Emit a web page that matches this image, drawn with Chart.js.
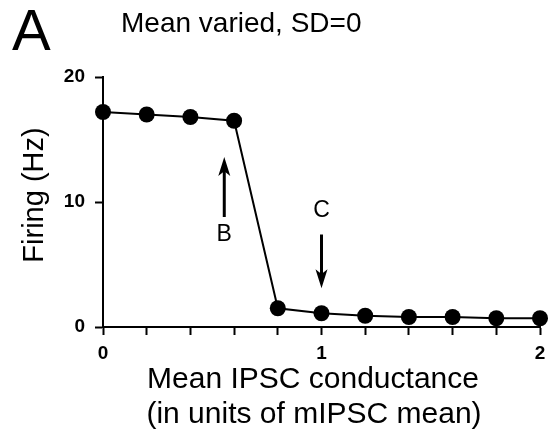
<!DOCTYPE html>
<html><head><meta charset="utf-8">
<script src="https://cdn.jsdelivr.net/npm/chart.js@4"></script>
<style>html,body{margin:0;padding:0;background:#fff}#wrap{width:553px;height:439px}</style>
</head><body><div id="wrap"><canvas id="c" width="553" height="439"></canvas></div>
<script>
// Data
const meanConductance = [0, 0.2, 0.4, 0.6, 0.8, 1.0, 1.2, 1.4, 1.6, 1.8, 2.0];
const firingHz = [17.2, 17.0, 16.8, 16.5, 1.5, 1.1, 0.9, 0.8, 0.8, 0.7, 0.7];
const xTickLabels = ['0', '1', '2'];
const yTickValues = [0, 10, 20];
// Annotation arrows: label, x, tail value, tip value, label value
const arrowLabels = ['B', 'C'];
const arrowX = [0.555, 1.0];
const arrowTail = [8.8, 7.4];
const arrowTip = [13.6, 3.1];
const arrowLabelY = [7.5, 9.4];

const FONT = '"Liberation Sans", Arial, Helvetica, sans-serif';

const textPlugin = {
  id: 'texts',
  afterDraw(chart) {
    const ctx = chart.ctx;
    const xs = chart.scales.x, ys = chart.scales.y;
    ctx.save();
    ctx.fillStyle = '#000';
    ctx.strokeStyle = '#000';
    ctx.textBaseline = 'alphabetic';
    // Panel letter
    ctx.font = '58px ' + FONT;
    ctx.textAlign = 'left';
    ctx.fillText('A', 12, 50);
    // Title
    ctx.font = '28px ' + FONT;
    ctx.fillText('Mean varied, SD=0', 121, 32);
    // X axis title
    ctx.font = '30px ' + FONT;
    ctx.textAlign = 'center';
    ctx.fillText('Mean IPSC conductance', 313, 388);
    ctx.fillText('(in units of mIPSC mean)', 314, 423);
    // Y axis title
    ctx.save();
    ctx.translate(43, 195);
    ctx.rotate(-Math.PI / 2);
    ctx.font = '29px ' + FONT;
    ctx.fillText('Firing (Hz)', 0, 0);
    ctx.restore();
    // Arrows
    for (let i = 0; i < arrowLabels.length; i++) {
      const px = xs.getPixelForValue(arrowX[i]);
      const yTail = ys.getPixelForValue(arrowTail[i]);
      const yTip = ys.getPixelForValue(arrowTip[i]);
      const dir = yTip < yTail ? -1 : 1;
      const headLen = 19, headHalf = 6;
      ctx.lineWidth = 3;
      ctx.beginPath();
      ctx.moveTo(px, yTail);
      ctx.lineTo(px, yTip - dir * headLen * 0.6);
      ctx.stroke();
      ctx.beginPath();
      ctx.moveTo(px, yTip);
      ctx.lineTo(px - headHalf, yTip - dir * headLen);
      ctx.lineTo(px, yTip - dir * headLen * 0.75);
      ctx.lineTo(px + headHalf, yTip - dir * headLen);
      ctx.closePath();
      ctx.fill();
      ctx.font = '23px ' + FONT;
      ctx.textAlign = 'center';
      ctx.textBaseline = 'middle';
      ctx.fillText(arrowLabels[i], px, ys.getPixelForValue(arrowLabelY[i]) + 1);
      ctx.textBaseline = 'alphabetic';
    }
    ctx.restore();
  }
};

const gridOpts = {
  drawOnChartArea: false,
  drawTicks: true,
  tickLength: 8,
  tickWidth: 2,
  tickColor: '#000'
};

new Chart(document.getElementById('c'), {
  type: 'line',
  data: {
    datasets: [{
      data: meanConductance.map((x, i) => ({x: x, y: firingHz[i]})),
      borderColor: '#000',
      borderWidth: 2,
      backgroundColor: '#000',
      pointBackgroundColor: '#000',
      pointBorderColor: '#000',
      pointRadius: 8,
      pointBorderWidth: 0,
      tension: 0,
      clip: false
    }]
  },
  options: {
    responsive: false,
    animation: false,
    devicePixelRatio: 1,
    layout: {padding: {top: 77, right: 13, left: 0, bottom: 0}},
    plugins: {legend: {display: false}, title: {display: false}, tooltip: {enabled: false}},
    scales: {
      x: {
        type: 'linear', min: 0, max: 2,
        afterFit(s) { s.height = 112; },
        grid: gridOpts,
        border: {display: true, color: '#000', width: 2},
        ticks: {
          stepSize: 0.2, autoSkip: false, maxRotation: 0, padding: 7,
          color: '#000', font: {family: FONT, size: 19, weight: 'bold'},
          callback(v) {
            const r = Math.round(v);
            return Math.abs(v - r) < 1e-6 && xTickLabels.includes(String(r)) ? String(r) : '';
          }
        }
      },
      y: {
        type: 'linear', min: yTickValues[0], max: yTickValues[yTickValues.length - 1],
        afterFit(s) { s.width = 103; },
        grid: gridOpts,
        border: {display: true, color: '#000', width: 2},
        ticks: {
          stepSize: 10, padding: 10, color: '#000',
          font: {family: FONT, size: 19, weight: 'bold'},
          callback(v) { return yTickValues.includes(v) ? String(v) : ''; }
        }
      }
    }
  },
  plugins: [textPlugin]
});
</script>
</body></html>
